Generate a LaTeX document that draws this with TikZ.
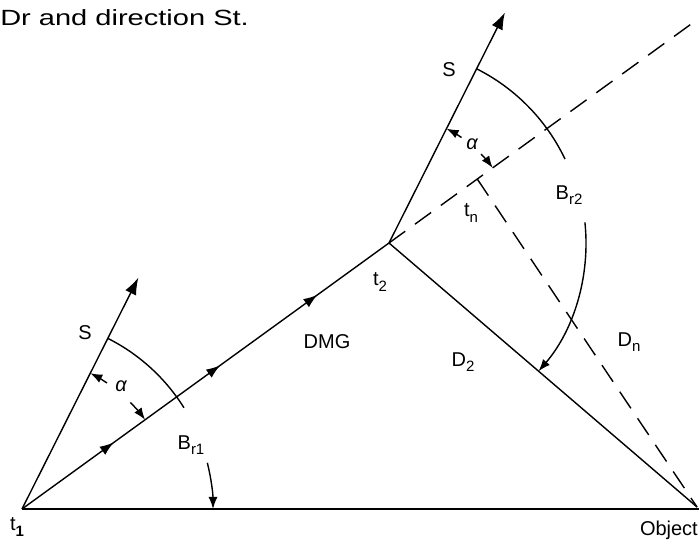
\documentclass[tikz,border=0pt]{standalone}
\usepackage{fontspec}
\setmainfont{Liberation Sans}
\usetikzlibrary{arrows.meta,decorations.markings,calc}
\newcommand\sbs[1]{\raisebox{-0.5ex}{\fontsize{15}{17}\selectfont #1}}
\begin{document}
\begin{tikzpicture}[x=1pt,y=1pt,
  ln/.style={line width=1.4pt},
  bl/.style={line width=2.4pt},
  dsh/.style={line width=1.4pt, dash pattern=on 20pt off 12pt},
  lbl/.style={font=\fontsize{20}{23}\selectfont, inner sep=0pt},
  tiparrow/.style={-{Latex[length=17pt,width=12pt]}},
  smarrow/.style={-{Latex[length=12pt,width=9pt]}},
  midarrows/.style={postaction={decorate},decoration={markings,
     mark=at position 0.25 with {\arrow{Latex[length=14pt,width=10pt]}},
     mark=at position 0.54 with {\arrow{Latex[length=14pt,width=10pt]}},
     mark=at position 0.805 with {\arrow{Latex[length=14pt,width=10pt]}}}}
]
\useasboundingbox (0,0) rectangle (699,543);
% points
\coordinate (t1) at (22,34);
\coordinate (t2) at (389,300);
\coordinate (obj) at (697,36);
\coordinate (bend) at (699,34);
\coordinate (s1) at ($(t1)+(63.3:259)$);
\coordinate (s2) at ($(t2)+(63.3:258)$);
\coordinate (tn) at ($(t2)+(35.93:109)$);
\coordinate (dend) at ($(t2)+(35.93:382)$);
% main lines
\draw[bl] (t1) -- (bend);
\draw[ln,midarrows] (t1) -- (t2);
\draw[ln] (t2) -- (obj);
\draw[ln,tiparrow] (t1) -- (s1);
\draw[ln,tiparrow] (t2) -- (s2);
% dashed lines
\draw[dsh] (t2) -- (dend);
\draw[dsh] (tn) -- (obj);
% arcs at t1
\draw[ln] ([shift={(63.3:191)}]t1) arc[start angle=63.3,end angle=32,radius=191];
\draw[ln,smarrow] ([shift={(56:152)}]t1) arc[start angle=56,end angle=63.3,radius=152];
\draw[ln,smarrow] ([shift={(44.5:152)}]t1) arc[start angle=44.5,end angle=35.93,radius=152];
\draw[ln,smarrow] ([shift={(14:191)}]t1) arc[start angle=14,end angle=0,radius=191];
% arcs at t2
\draw[ln] ([shift={(63.3:195)}]t2) arc[start angle=63.3,end angle=25.5,radius=195];
\draw[ln,smarrow] ([shift={(55.5:128)}]t2) arc[start angle=55.5,end angle=63.3,radius=128];
\draw[ln,smarrow] ([shift={(44:128)}]t2) arc[start angle=44,end angle=35.93,radius=128];
\draw[ln,smarrow] ([shift={(6:197)}]t2) arc[start angle=6,end angle=-40.6,radius=197];
% labels
\node[anchor=base west,inner sep=0pt,font=\fontsize{22}{25}\selectfont,xscale=1.32] (title) at (0,517) {Dr and direction St.};
\node[lbl] (lS1) at (85,210) {S};
\node[lbl] (lS2) at (449,473) {S};
\node[lbl] (la1) at (121,157) {\itshape α};
\node[lbl] (la2) at (472,399) {\itshape α};
\node[lbl] (lBr1) at (191,98) {B\sbs{r1}};
\node[lbl] (lBr2) at (569,348) {B\sbs{r2}};
\node[lbl] (lt1) at (17,16) {t\sbs{\textbf{1}}};
\node[lbl] (lt2) at (380,261) {t\sbs{2}};
\node[lbl] (ltn) at (471,330) {t\sbs{n}};
\node[lbl] (lDMG) at (327,201) {DMG};
\node[lbl] (lD2) at (463,181) {D\sbs{2}};
\node[lbl] (lDn) at (629,201) {D\sbs{n}};
\node[lbl,anchor=east] (lobj) at (698,13) {Object};
\end{tikzpicture}
\end{document}
